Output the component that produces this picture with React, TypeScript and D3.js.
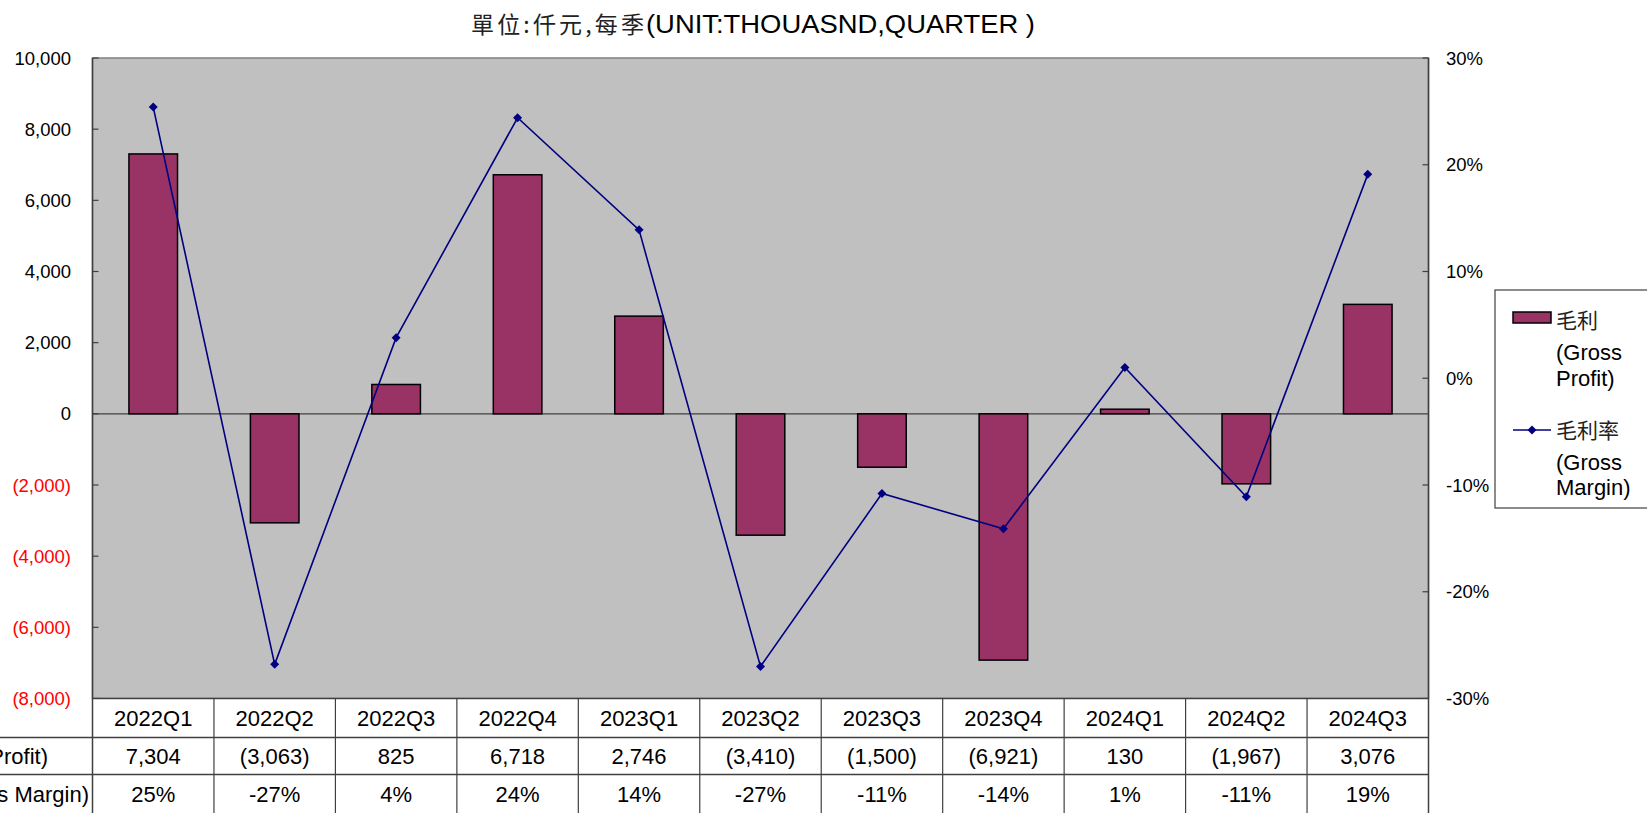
import React from "react";
import * as d3 from "d3";

const categories = ["2022Q1","2022Q2","2022Q3","2022Q4","2023Q1","2023Q2","2023Q3","2023Q4","2024Q1","2024Q2","2024Q3"];
const grossProfit = [7304, -3063, 825, 6718, 2746, -3410, -1500, -6921, 130, -1967, 3076];
const grossMargin = [25.4, -26.8, 3.8, 24.4, 13.9, -27.0, -10.8, -14.1, 1.0, -11.1, 19.1];
const marginLabels = ["25%","-27%","4%","24%","14%","-27%","-11%","-14%","1%","-11%","19%"];
const leftTicks = [10000, 8000, 6000, 4000, 2000, 0, -2000, -4000, -6000, -8000];
const rightTicks = [30, 20, 10, 0, -10, -20, -30];
const titleCJK = "單位:仟元,每季";
const titleLatin = "(UNIT:THOUASND,QUARTER )";
const rowLabels = ["毛利(Gross Profit)", "毛利率(Gross Margin)"];

const W = 1647, H = 813;
const L = 92.5, R = 1428.5, T = 58, B = 698.5;
const rowB = [698.5, 737.5, 774.5, 813];
const FONT = "'Liberation Sans', Arial, 'Noto Sans CJK TC', sans-serif";
const CJK = "'Noto Sans CJK TC', 'Liberation Sans', sans-serif";

const fmt = (v: number) => {
  const s = d3.format(",")(Math.abs(v));
  return v < 0 ? `(${s})` : s;
};

export default function App() {
  const x = d3.scaleBand<string>().domain(categories).range([L, R]).paddingInner(0).paddingOuter(0);
  const yL = d3.scaleLinear().domain([-8000, 10000]).range([B, T]);
  const yR = d3.scaleLinear().domain([-30, 30]).range([B, T]);
  const bw = x.bandwidth() * 0.4;
  const cx = (c: string) => (x(c) as number) + x.bandwidth() / 2;
  const line = d3.line<number>().x((_, i) => cx(categories[i])).y((d) => yR(d));
  const diamond = (px: number, py: number, s = 4.5) =>
    `M${px},${py - s}L${px + s},${py}L${px},${py + s}L${px - s},${py}Z`;

  return (
    <svg width={W} height={H} style={{ position: "absolute", left: 0, top: 0, background: "#fff" }}>
      <text x={471} y={33} fontSize={23} fontFamily={CJK} fill="#222" letterSpacing={2}
        textLength={175} lengthAdjust="spacing">{titleCJK}</text>
      <text x={646} y={33} fontSize={25} fontFamily={FONT} fill="#000"
        textLength={389} lengthAdjust="spacingAndGlyphs">{titleLatin}</text>
      {/* plot area */}
      <rect x={L} y={T} width={R - L} height={B - T} fill="#C0C0C0" stroke="#808080" strokeWidth={1.5} />
      {/* zero line */}
      <line x1={L} x2={R} y1={yL(0)} y2={yL(0)} stroke="#404040" strokeWidth={1.2} />
      {/* bars */}
      {grossProfit.map((v, i) => (
        <rect key={i} x={cx(categories[i]) - bw / 2} y={Math.min(yL(v), yL(0))} width={bw}
          height={Math.abs(yL(v) - yL(0))} fill="#993366" stroke="#000" strokeWidth={1.5} />
      ))}
      {/* line */}
      <path d={line(grossMargin) || ""} fill="none" stroke="#000080" strokeWidth={1.6} />
      {grossMargin.map((v, i) => (
        <path key={i} d={diamond(cx(categories[i]), yR(v))} fill="#000080" />
      ))}
      {/* axes */}
      {leftTicks.map((t) => (
        <g key={t}>
          <line x1={L} x2={L + 6} y1={yL(t)} y2={yL(t)} stroke="#404040" strokeWidth={1.2} />
          <text x={71} y={yL(t) + 6.5} textAnchor="end" fontSize={18.5} fontFamily={FONT}
            fill={t < 0 ? "#FF0000" : "#000"}>{fmt(t)}</text>
        </g>
      ))}
      {rightTicks.map((t) => (
        <g key={t}>
          <line x1={R - 6} x2={R} y1={yR(t)} y2={yR(t)} stroke="#404040" strokeWidth={1.2} />
          <text x={1446} y={yR(t) + 6.5} textAnchor="start" fontSize={18.5} fontFamily={FONT} fill="#000">{t}%</text>
        </g>
      ))}
      {/* table */}
      <rect x={L} y={rowB[0]} width={R - L} height={H - rowB[0]} fill="#fff" />
      <line x1={L} x2={R} y1={rowB[0]} y2={rowB[0]} stroke="#404040" strokeWidth={1.5} />
      <line x1={0} x2={R} y1={rowB[1]} y2={rowB[1]} stroke="#404040" strokeWidth={1.5} />
      <line x1={0} x2={R} y1={rowB[2]} y2={rowB[2]} stroke="#404040" strokeWidth={1.5} />
      <line x1={L} x2={L} y1={T} y2={H} stroke="#404040" strokeWidth={1.5} />
      <line x1={R} x2={R} y1={T} y2={H} stroke="#404040" strokeWidth={1.5} />
      {categories.map((c, i) => (
        <g key={c}>
          {i > 0 && <line x1={x(c)} x2={x(c)} y1={rowB[0]} y2={H} stroke="#404040" strokeWidth={1.2} />}
          <text x={cx(c)} y={(rowB[0] + rowB[1]) / 2 + 8} textAnchor="middle" fontSize={22} fontFamily={FONT}>{c}</text>
          <text x={cx(c)} y={(rowB[1] + rowB[2]) / 2 + 8} textAnchor="middle" fontSize={22} fontFamily={FONT}>{fmt(grossProfit[i])}</text>
          <text x={cx(c)} y={(rowB[2] + rowB[3]) / 2 + 8} textAnchor="middle" fontSize={22} fontFamily={FONT}>{marginLabels[i]}</text>
        </g>
      ))}
      <text x={48} y={(rowB[1] + rowB[2]) / 2 + 8} textAnchor="end" fontSize={22} fontFamily={FONT}>{rowLabels[0]}</text>
      <text x={89} y={(rowB[2] + rowB[3]) / 2 + 8} textAnchor="end" fontSize={22} fontFamily={FONT}>{rowLabels[1]}</text>
      {/* legend */}
      <rect x={1495} y={290} width={170} height={218} fill="#fff" stroke="#404040" strokeWidth={1.2} />
      <rect x={1513} y={312} width={38} height={11} fill="#993366" stroke="#000" strokeWidth={1.5} />
      <text x={1556} y={328} fontSize={21} fontFamily={CJK} fill="#222">毛利</text>
      <text x={1556} y={360} fontSize={22} fontFamily={FONT}>(Gross</text>
      <text x={1556} y={386} fontSize={22} fontFamily={FONT}>Profit)</text>
      <line x1={1513} x2={1551} y1={430} y2={430} stroke="#000080" strokeWidth={1.6} />
      <path d={diamond(1532, 430)} fill="#000080" />
      <text x={1556} y={438} fontSize={21} fontFamily={CJK} fill="#222">毛利率</text>
      <text x={1556} y={470} fontSize={22} fontFamily={FONT}>(Gross</text>
      <text x={1556} y={495} fontSize={22} fontFamily={FONT}>Margin)</text>
    </svg>
  );
}
